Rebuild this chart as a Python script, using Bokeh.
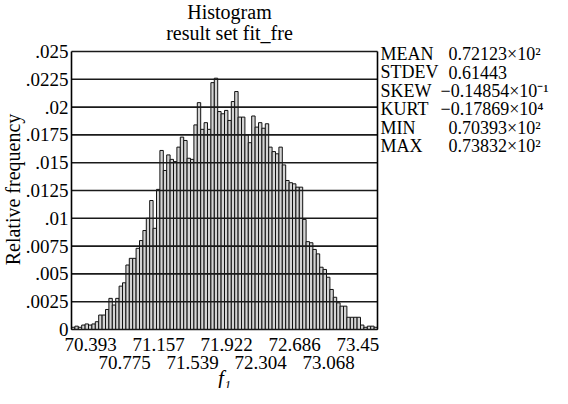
import numpy as np
from bokeh.plotting import figure
from bokeh.models import ColumnDataSource, Range1d
from bokeh.core.properties import value
from bokeh.embed import file_html
from bokeh.resources import INLINE

# ---- data ----
x_min = 70.393
x_max = 73.832
freq = [
    0.0002, 0.0003, 0.0002, 0.0004, 0.0005, 0.0004, 0.0005, 0.0007, 0.0013, 0.0013,
    0.0018, 0.0028, 0.0022, 0.0028, 0.0039, 0.0042, 0.0058, 0.0064, 0.0064, 0.0073,
    0.0080, 0.0089, 0.0100, 0.0116, 0.0091, 0.0126, 0.0161, 0.0143, 0.0157, 0.0153,
    0.0151, 0.0164, 0.0173, 0.0170, 0.0154, 0.0153, 0.0184, 0.0204, 0.0180, 0.0186,
    0.0180, 0.0222, 0.0226, 0.0196, 0.0194, 0.0197, 0.0188, 0.0205, 0.0214, 0.0191,
    0.0191, 0.0175, 0.0168, 0.0192, 0.0182, 0.0186, 0.0181, 0.0185, 0.0164, 0.0160,
    0.0158, 0.0164, 0.0148, 0.0134, 0.0132, 0.0131, 0.0128, 0.0128, 0.0099, 0.0079,
    0.0078, 0.0072, 0.0068, 0.0056, 0.0054, 0.0047, 0.0036, 0.0029, 0.0024, 0.0021,
    0.0021, 0.0011, 0.0011, 0.0011, 0.0011, 0.0004, 0.0002, 0.0003, 0.0003, 0.0002,
]
x_ticks_row1 = [70.393, 71.157, 71.922, 72.686, 73.45]
x_labels_row1 = ["70.393", "71.157", "71.922", "72.686", "73.45"]
x_ticks_row2 = [70.775, 71.539, 72.304, 73.068]
x_labels_row2 = ["70.775", "71.539", "72.304", "73.068"]
y_ticks = [0.0, 0.0025, 0.005, 0.0075, 0.01, 0.0125, 0.015, 0.0175, 0.02, 0.0225, 0.025]
y_tick_labels = ["0", ".0025", ".005", ".0075", ".01", ".0125", ".015", ".0175", ".02", ".0225", ".025"]
stat_names = ["MEAN", "STDEV", "SKEW", "KURT", "MIN", "MAX"]
stat_values = ["0.72123×10²", "0.61443", "−0.14854×10⁻¹", "−0.17869×10⁴", "0.70393×10²", "0.73832×10²"]
title_lines = ["Histogram", "result set fit_fre"]
x_axis_label = "f₁"
y_axis_label = "Relative frequency"

# ---- layout (pixels) ----
FONT = "Liberation Serif"
W, H = 552, 388
HX0, HX1 = 71, 377        # histogram box, canvas px (left/right)
HY0, HY1 = 51, 329        # histogram box, canvas px (top = .025, bottom = 0)
y_top = y_ticks[-1]
dx = (x_max - x_min) / (HX1 - HX0)      # data units per px
dy = y_top / (HY1 - HY0)

def X(px):  # canvas px -> data x
    return x_min + (px - HX0) * dx

def Y(py):  # canvas px -> data y
    return (HY1 - py) * dy

p = figure(width=W, height=H, output_backend="svg", toolbar_location=None,
           x_range=Range1d(X(0), X(W)), y_range=Range1d(Y(H), Y(0)),
           min_border_left=0, min_border_right=0, min_border_top=0, min_border_bottom=0)
p.background_fill_color = "white"
p.border_fill_color = "white"
p.outline_line_color = None
p.grid.visible = False
p.xaxis.visible = False
p.yaxis.visible = False

# bars
edges = np.linspace(x_min, x_max, len(freq) + 1)
src = ColumnDataSource(dict(left=edges[:-1], right=edges[1:], top=freq))
p.quad(left="left", right="right", bottom=0, top="top", source=src,
       fill_color="#d4d4d4", line_color="#111111", line_width=1)

# horizontal grid lines over the bars, and the box sides
p.segment(x0=[x_min] * len(y_ticks), x1=[x_max] * len(y_ticks), y0=y_ticks, y1=y_ticks,
          line_color="#1a1a1a", line_width=1.6)
p.segment(x0=[x_min, x_max], x1=[x_min, x_max], y0=[0, 0], y1=[y_top, y_top],
          line_color="black", line_width=1.6)

def txt(xs, ys, texts, size, align="left", style="normal", x_offset=0, angle=0.0):
    s = ColumnDataSource(dict(x=xs, y=ys, text=texts))
    p.text(x="x", y="y", text="text", source=s, text_align=align, text_baseline="middle",
           text_font=value(FONT), text_font_size=value(size), text_font_style=style,
           text_color="black", x_offset=x_offset, angle=angle)

# y tick labels, right aligned against the box
txt([x_min] * len(y_ticks), y_ticks, y_tick_labels, "19px", align="right", x_offset=-3)
# y axis title
txt([X(12)], [Y(189)], [y_axis_label], "20px", align="center", angle=np.pi / 2)
# staggered x tick labels, left aligned near their ticks as in the reference
txt(x_ticks_row1, [Y(344)] * len(x_ticks_row1), x_labels_row1, "19px", x_offset=-7)
txt(x_ticks_row2, [Y(362)] * len(x_ticks_row2), x_labels_row2, "19px", x_offset=-7)
# x axis title
txt([(x_min + x_max) / 2], [Y(377)], [x_axis_label], "21px", align="center", style="italic")
# title
txt([X(229)] * 2, [Y(11), Y(32)], title_lines, "20px", align="center")

# statistics block
rows_y = [Y(53 + 18.5 * k) for k in range(len(stat_names))]
txt([X(380)] * len(stat_names), rows_y, stat_names, "18px")
val_x = [X(440) if v.startswith("−") else X(448) for v in stat_values]
txt(val_x, rows_y, stat_values, "18px")

open("out.html", "w").write(file_html(p, INLINE))
